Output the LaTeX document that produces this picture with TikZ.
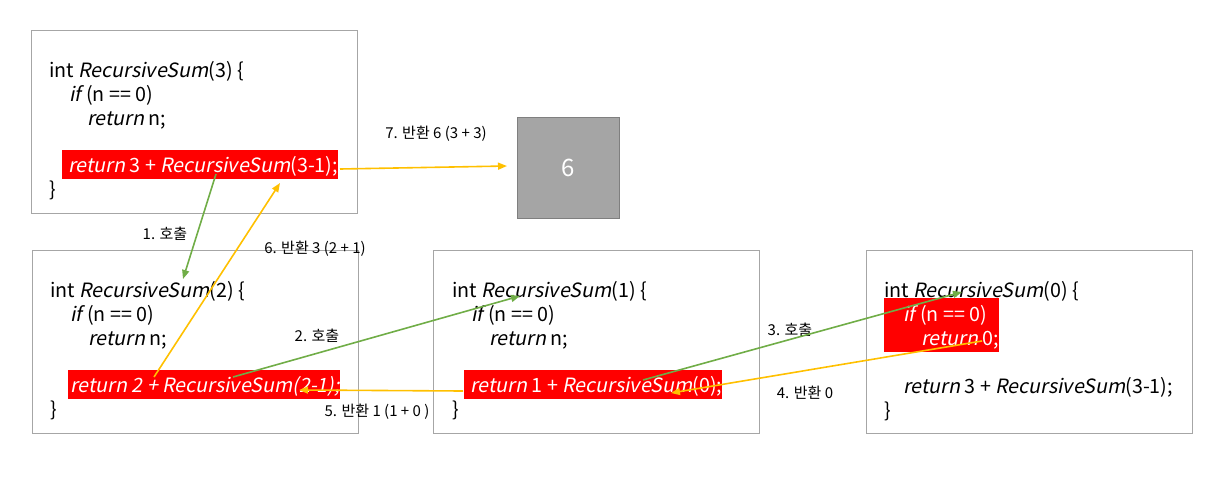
\documentclass[tikz,border=0pt]{standalone}
\usepackage{fontspec}
\setmainfont{Noto Sans CJK KR}[ItalicFont={Noto Sans CJK KR},ItalicFeatures={FakeSlant=0.2}]
\usetikzlibrary{arrows.meta,backgrounds}
\definecolor{bordergray}{HTML}{A6A6A6}
\definecolor{sixfill}{HTML}{A5A5A5}
\definecolor{sixborder}{HTML}{7F7F7F}
\definecolor{callgreen}{HTML}{70AD47}
\definecolor{retyellow}{HTML}{FFC000}
\definecolor{hlred}{HTML}{FF0000}
\tikzset{
  codebox/.style={draw=bordergray, line width=1pt, minimum width=326pt, minimum height=183pt, inner sep=0pt, anchor=north west},
  code/.style={anchor=base west, inner sep=0pt, text height=16pt, text depth=6.5pt, font=\fontsize{19.7}{24}\selectfont},
  hlcode/.style={code, text=white},
  lbl/.style={inner sep=1pt, font=\fontsize{15}{17}\selectfont},
  callarrow/.style={draw=callgreen, line width=1.6pt, -{Triangle[length=9pt,width=7pt]}},
  retarrow/.style={draw=retyellow, line width=1.6pt, -{Triangle[length=9pt,width=7pt]}}
}
\begin{document}
\begin{tikzpicture}[x=1pt,y=-1pt]
\useasboundingbox (0,0) rectangle (1232,488);
% boxes
\node[codebox] (A) at (31,30) {};
\node[codebox] (B) at (32,250) {};
\node[codebox] (C) at (433,250) {};
\node[codebox] (D) at (866,250) {};
\node[draw=sixborder, line width=1pt, fill=sixfill, minimum width=102pt, minimum height=101pt, anchor=north west, inner sep=0pt, text=white, font=\fontsize{24}{28}\selectfont] (six) at (517,117) {6};
% box A
\node[code] (a1) at (49,77) {int \textit{RecursiveSum}(3) \{};
\node[code] (a2) at (69,101) {\textit{if} (n == 0)};
\node[code] (a3) at (87,125) {\textit{return} n;};
\node[hlcode] (a5) at (68,172) {\textit{return} 3 + \textit{RecursiveSum}(3-1);};
\node[code] (a6) at (49,196) {\}};
% box B
\node[code] (b1) at (50,297) {int \textit{RecursiveSum}(2) \{};
\node[code] (b2) at (70,321) {\textit{if} (n == 0)};
\node[code] (b3) at (88,345) {\textit{return} n;};
\node[hlcode] (b5) at (70,392) {\textit{return 2 + RecursiveSum(2-1);}};
\node[code] (b6) at (50,416) {\}};
% box C
\node[code] (c1) at (452,297) {int \textit{RecursiveSum}(1) \{};
\node[code] (c2) at (471,321) {\textit{if} (n == 0)};
\node[code] (c3) at (489,345) {\textit{return} n;};
\node[hlcode] (c5) at (470,392) {\textit{return} 1 + \textit{RecursiveSum}(0);};
\node[code] (c6) at (452,416) {\}};
% box D
\node[code] (d1) at (884,297) {int \textit{RecursiveSum}(0) \{};
\node[hlcode] (d2) at (903,321) {\textit{if} (n == 0)};
\node[hlcode] (d3) at (921,345) {\textit{return} 0;};
\node[code] (d5) at (903,393) {\textit{return} 3 + \textit{RecursiveSum}(3-1);};
\node[code] (d6) at (884,417) {\}};
% highlights
\begin{scope}[on background layer]
\fill[hlred] ([xshift=-6pt,yshift=6pt]a5.north west) rectangle (a5.south east);
\fill[hlred] ([xshift=-2pt,yshift=6pt]b5.north west) rectangle (b5.south east);
\fill[hlred] ([xshift=-6pt,yshift=6pt]c5.north west) rectangle (c5.south east);
\fill[hlred] ([xshift=-19pt,yshift=7pt]d2.north west) rectangle (d3.south east);
\end{scope}
% labels
\node[lbl] (l1) at (165,234) {1. 호출};
\node[lbl] (l2) at (317,336) {2. 호출};
\node[lbl] (l3) at (790,330) {3. 호출};
\node[lbl] (l4) at (805,393) {4. 반환 0};
\node[lbl] (l5) at (377,412) {5. 반환 1 (1 + 0 )};
\node[lbl] (l6) at (315,249) {6. 반환 3 (2 + 1)};
\node[lbl] (l7) at (436,134) {7. 반환 6 (3 + 3)};
% arrow end points
\coordinate (g1s) at (216,174);
\coordinate (g1e) at (183,279);
\coordinate (g2s) at (233,377);
\coordinate (g2e) at (520,296);
\coordinate (g3s) at (643,380);
\coordinate (g3e) at (962,292);
\coordinate (y4s) at (982,341);
\coordinate (y4e) at (671,393);
\coordinate (y5s) at (463,391);
\coordinate (y5e) at (299,390);
\coordinate (y6s) at (154,377);
\coordinate (y6e) at (280,183);
\coordinate (y7s) at (340,169);
\coordinate (y7e) at (507,166);
% arrows
\draw[callarrow] (g1s) -- (g1e);
\draw[callarrow] (g2s) -- (g2e);
\draw[callarrow] (g3s) -- (g3e);
\draw[retarrow] (y4s) -- (y4e);
\draw[retarrow] (y5s) -- (y5e);
\draw[retarrow] (y6s) -- (y6e);
\draw[retarrow] (y7s) -- (y7e);
\end{tikzpicture}
\end{document}
